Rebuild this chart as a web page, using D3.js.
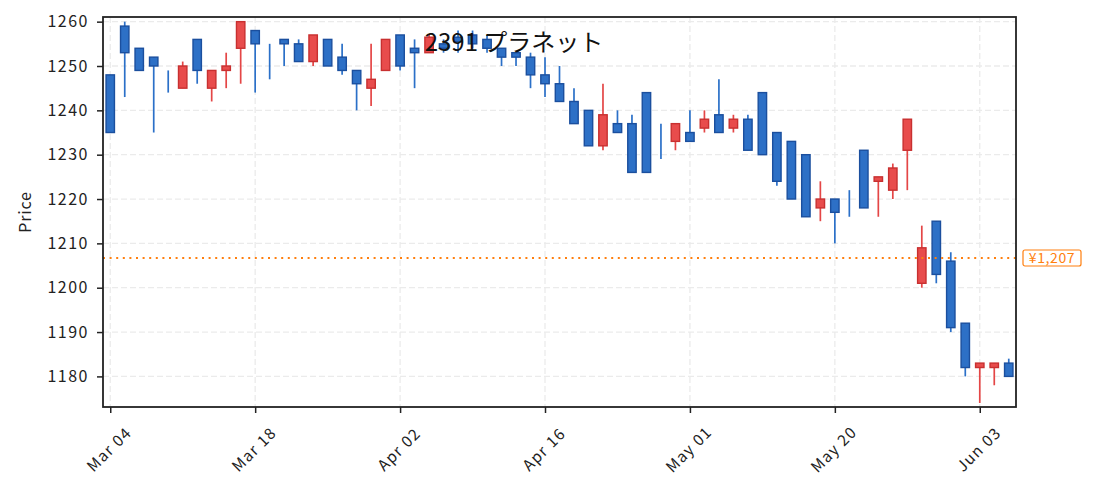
<!DOCTYPE html>
<html><head><meta charset="utf-8">
<script src="https://cdn.jsdelivr.net/npm/d3@7"></script>
<style>body{margin:0;background:#fff}svg{display:block}</style>
</head><body>
<svg id="chart" width="1093" height="495"></svg>
<script>
const title = "2391 プラネット";
const dates = ["2024-03-04","2024-03-05","2024-03-06","2024-03-07","2024-03-08","2024-03-11","2024-03-12","2024-03-13","2024-03-14","2024-03-15",
"2024-03-18","2024-03-19","2024-03-21","2024-03-22","2024-03-25","2024-03-26","2024-03-27","2024-03-28","2024-03-29","2024-04-01",
"2024-04-02","2024-04-03","2024-04-04","2024-04-05","2024-04-08","2024-04-09","2024-04-10","2024-04-11","2024-04-12","2024-04-15",
"2024-04-16","2024-04-17","2024-04-18","2024-04-19","2024-04-22","2024-04-23","2024-04-24","2024-04-25","2024-04-26","2024-04-30",
"2024-05-01","2024-05-07","2024-05-08","2024-05-09","2024-05-10","2024-05-13","2024-05-14","2024-05-15","2024-05-16","2024-05-17",
"2024-05-20","2024-05-21","2024-05-22","2024-05-23","2024-05-24","2024-05-27","2024-05-28","2024-05-29","2024-05-30","2024-05-31",
"2024-06-03","2024-06-04","2024-06-05"];
const opens  = [1248,1259,1254,1252,1245,1245,1256,1245,1249,1254, 1258,1255,1256,1255,1251,1256,1252,1249,1245,1249,
                1257,1254,1253,1255,1256.5,1257,1256,1254,1253,1252, 1248,1246,1242,1240,1232,1237,1237,1244,1230,1233,
                1235,1236,1239,1236,1238,1244,1235,1233,1230,1218, 1220,1219,1231,1224,1222,1231,1201,1215,1206,1192,
                1182,1182,1183];
const highs  = [1248,1260,1254,1252,1249,1251,1256,1249,1253,1260, 1258,1255,1256,1256,1257,1256,1255,1249,1255,1256,
                1257,1256,1257,1256,1258,1258,1257,1254,1253,1253, 1252,1250,1245,1240,1246,1240,1239,1244,1237,1237,
                1240,1240,1247,1239,1239,1244,1235,1233,1230,1224, 1220,1222,1231,1225,1228,1238,1214,1215,1208,1192,
                1183,1183,1184];
const lows   = [1235,1243,1249,1235,1244,1245,1246,1242,1245,1246, 1244,1247,1250,1251,1250,1250,1248,1240,1241,1249,
                1249,1245,1253,1253,1253,1254,1253,1250,1250,1245, 1243,1242,1237,1232,1231,1235,1226,1226,1229,1231,
                1233,1235,1235,1235,1231,1230,1223,1220,1216,1215, 1210,1216,1218,1216,1220,1222,1200,1201,1190,1180,
                1174,1178,1180];
const closes = [1235,1253,1249,1250,1245,1250,1249,1249,1250,1260, 1255,1255,1255,1251,1257,1250,1249,1246,1247,1256,
                1250,1253,1256.5,1254,1255.5,1255,1254,1252,1252,1248, 1246,1242,1237,1232,1239,1235,1226,1226,1230,1237,
                1233,1238,1235,1238,1231,1230,1224,1220,1216,1220, 1217,1219,1218,1225,1227,1238,1209,1203,1191,1182,
                1183,1183,1180];
const yTicks = [1180,1190,1200,1210,1220,1230,1240,1250,1260];
const xTickIdx = [0,10,20,30,40,50,60];
const refPrice = 1206.7;

const W = 1093, H = 495;
const m = {left:103, top:17, right:1093-1016, bottom:495-407};
const iw = W - m.left - m.right, ih = H - m.top - m.bottom;
const FONT = "'Noto Sans CJK JP','Noto Sans',sans-serif";

const svg = d3.select("#chart");
const g = svg.append("g").attr("transform", `translate(${m.left},${m.top})`);

const x = d3.scaleLinear().domain([-0.5, dates.length - 0.5]).range([0, iw]);
const y = d3.scaleLinear().domain([1173.1, 1261.05]).range([ih, 0]);
const step = x(1) - x(0);
const parse = d3.timeParse("%Y-%m-%d");
const fmt = d3.timeFormat("%b %d");

// grid
g.append("g").selectAll("line").data(yTicks).join("line")
  .attr("x1",0).attr("x2",iw).attr("y1",d=>y(d)).attr("y2",d=>y(d))
  .attr("stroke","#ebebeb").attr("stroke-width",1.3).attr("stroke-dasharray","6,3");
g.append("g").selectAll("line").data(xTickIdx).join("line")
  .attr("y1",0).attr("y2",ih).attr("x1",d=>x(d)).attr("x2",d=>x(d))
  .attr("stroke","#ebebeb").attr("stroke-width",1.3).attr("stroke-dasharray","6,3");

const data = dates.map((d,i)=>({i, o:opens[i], h:highs[i], l:lows[i], c:closes[i]}));
const up = d => d.c > d.o;
const wickCol = d => up(d) ? "#e44646" : "#2b70c8";
const fillCol = d => up(d) ? "#e84c4c" : "#2d70c6";
const edgeCol = d => up(d) ? "#c83030" : "#1b4f9e";

g.append("g").selectAll("line").data(data).join("line")
  .attr("x1",d=>x(d.i)).attr("x2",d=>x(d.i))
  .attr("y1",d=>y(d.h)).attr("y2",d=>y(d.l))
  .attr("stroke",wickCol).attr("stroke-width",1.7);

const bw = step*0.58;
g.append("g").selectAll("rect").data(data).join("rect")
  .attr("x",d=>x(d.i)-bw/2).attr("width",bw)
  .attr("y",d=>y(Math.max(d.o,d.c)))
  .attr("height",d=>Math.abs(y(d.o)-y(d.c)))
  .attr("fill",fillCol).attr("stroke",edgeCol).attr("stroke-width",1.4);

// reference line
g.append("line").attr("x1",0).attr("x2",iw).attr("y1",y(refPrice)).attr("y2",y(refPrice))
  .attr("stroke","#ff7f0e").attr("stroke-width",2).attr("stroke-dasharray","2,4.6");
const lab = g.append("g").attr("transform",`translate(${iw+7},${y(refPrice)})`);
lab.append("rect").attr("x",0).attr("y",-8).attr("width",58).attr("height",16).attr("rx",2)
  .attr("fill","#fff").attr("stroke","#ff7f0e").attr("stroke-width",1.2);
lab.append("text").attr("x",29).attr("y",0).attr("dy","0.36em").attr("text-anchor","middle")
  .attr("font-family",FONT).attr("font-size",14).attr("letter-spacing","0.6px").attr("fill","#ff7f0e")
  .text("¥" + d3.format(",.0f")(refPrice));

// axes
const yAxis = g.append("g").call(d3.axisLeft(y).tickValues(yTicks).tickSize(6).tickPadding(8).tickFormat(d3.format("d")));
yAxis.select(".domain").remove();
yAxis.selectAll("line").attr("stroke","#222").attr("stroke-width",1.5);
yAxis.selectAll("text").attr("font-family",FONT).attr("font-size",16).attr("fill","#222").attr("letter-spacing","1.5px");

const xAxis = g.append("g").attr("transform",`translate(0,${ih})`)
  .call(d3.axisBottom(x).tickValues(xTickIdx).tickSize(6).tickFormat(i=>fmt(parse(dates[i]))));
xAxis.select(".domain").remove();
xAxis.selectAll("line").attr("stroke","#222").attr("stroke-width",1.5);
xAxis.selectAll("text")
  .attr("font-family",FONT).attr("font-size",15.5).attr("letter-spacing","1.2px").attr("fill","#222")
  .attr("text-anchor","middle").attr("y",0).attr("dy","0.35em")
  .attr("transform","translate(-1.5,42.5) rotate(-45)");

g.append("rect").attr("x",0).attr("y",0).attr("width",iw).attr("height",ih)
  .attr("fill","none").attr("stroke","#222").attr("stroke-width",1.8);

svg.append("text").attr("x",25).attr("y",m.top+ih/2).attr("transform",`rotate(-90,25,${m.top+ih/2})`)
  .attr("text-anchor","middle").attr("dy","0.35em")
  .attr("font-family",FONT).attr("font-size",16).attr("letter-spacing","0.8px").attr("fill","#222").text("Price");

svg.append("text").attr("x",514).attr("y",51).attr("text-anchor","middle")
  .attr("font-family",FONT).attr("font-size",24).attr("fill","#111").text(title);
</script>
</body></html>
